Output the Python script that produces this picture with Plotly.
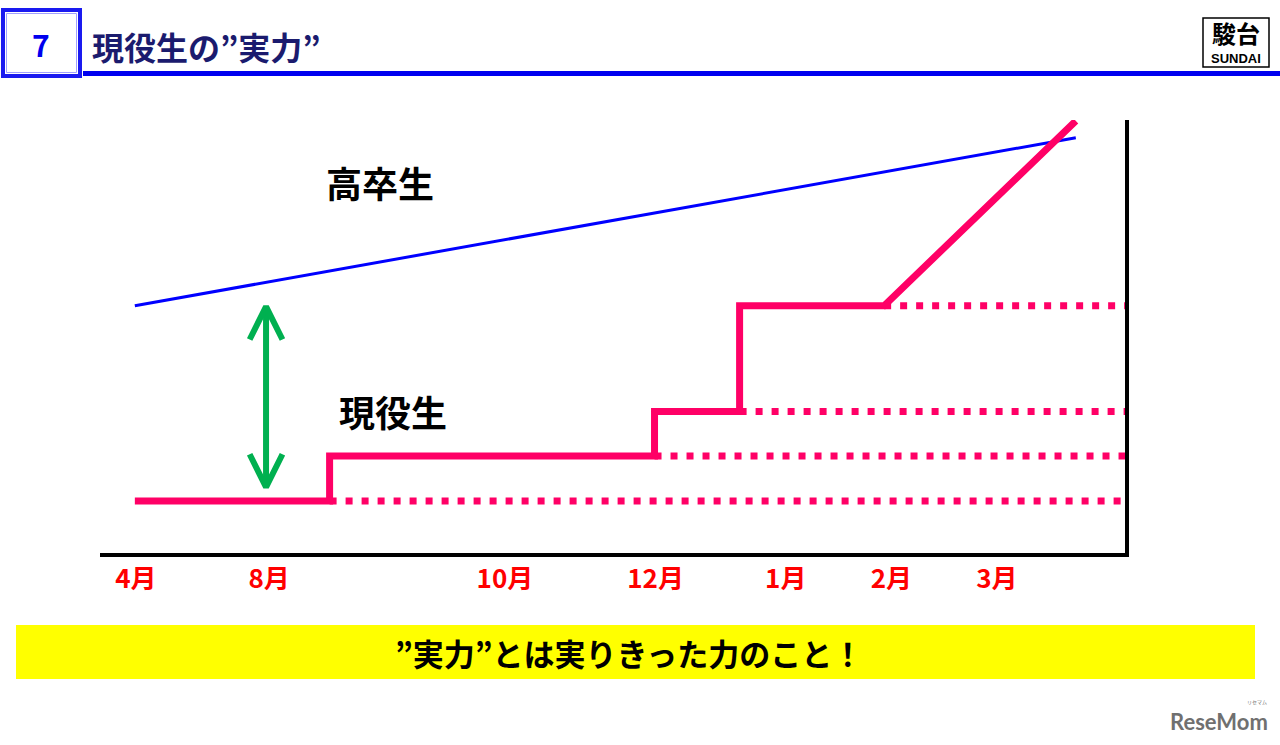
import plotly.graph_objects as go

# ---- data (schematic units: x 0-100 along the time axis, y 0-100 "ability") ----
months = ["4月", "8月", "10月", "12月", "1月", "2月", "3月"]
month_pos = [3.5, 16.5, 39.5, 54.2, 66.9, 77.2, 87.5]

grad_x = [3.4, 95.2]          # 高卒生 (graduates) - steady rise
grad_y = [57.1, 95.9]

curr_x = [3.4, 22.4, 22.4, 54.1, 54.1, 62.4, 62.4, 76.5, 95.2]   # 現役生 (current students)
curr_y = [12.0, 12.0, 22.4, 22.4, 32.7, 32.7, 57.1, 57.1, 99.8]

level_y = [12.0, 22.4, 32.7, 57.1]       # dotted "plateau" levels
level_start = [22.4, 54.1, 62.4, 76.5]
level_end = 100.0

gap_x = 16.2                              # green double arrow
gap_low, gap_high = 15.2, 56.9
head_dx, head_dy = 1.6, 7.6

label_grad = ("高卒生", 27.3, 85.7)
label_curr = ("現役生", 28.6, 32.7)

PINK = "#FF0066"
BLUE = "#0000FF"
GREEN = "#00B050"
JP = "Noto Sans CJK JP"

W, H = 1280, 745


def px(x):
    return x / W


def py(y):
    return 1 - y / H


fig = go.Figure()

for ly, ls in zip(level_y, level_start):
    fig.add_trace(go.Scatter(x=[ls, level_end], y=[ly, ly], mode="lines",
                             line=dict(color=PINK, width=7, dash="7px,9px"),
                             hoverinfo="skip"))

fig.add_trace(go.Scatter(x=grad_x, y=grad_y, mode="lines",
                         line=dict(color=BLUE, width=3), hoverinfo="skip"))
fig.add_trace(go.Scatter(x=curr_x, y=curr_y, mode="lines",
                         line=dict(color=PINK, width=7), hoverinfo="skip"))

# green double arrow
fig.add_trace(go.Scatter(x=[gap_x, gap_x], y=[gap_low, gap_high], mode="lines",
                         line=dict(color=GREEN, width=6), hoverinfo="skip"))
fig.add_trace(go.Scatter(x=[gap_x - head_dx, gap_x, gap_x + head_dx],
                         y=[gap_high - head_dy, gap_high, gap_high - head_dy],
                         mode="lines", line=dict(color=GREEN, width=6), hoverinfo="skip"))
fig.add_trace(go.Scatter(x=[gap_x - head_dx, gap_x, gap_x + head_dx],
                         y=[gap_low + head_dy, gap_low, gap_low + head_dy],
                         mode="lines", line=dict(color=GREEN, width=6), hoverinfo="skip"))

annotations = []
for text, x, y in (label_grad, label_curr):
    annotations.append(dict(x=x, y=y, xref="x", yref="y", text=text, showarrow=False,
                            xanchor="center", yanchor="middle",
                            font=dict(family=JP, size=36, color="#000000", weight="bold")))


def note(x, y, text, size, color, family=JP, weight="bold", xanchor="center"):
    annotations.append(dict(x=px(x), y=py(y), xref="paper", yref="paper", text=text,
                            showarrow=False, xanchor=xanchor, yanchor="middle",
                            font=dict(family=family, size=size, color=color, weight=weight)))


# header
note(41, 44, "7", 30, "#0000EE")
note(90, 46, "現役生の”実力”", 32, "#1B1B6E", xanchor="left")
note(1236, 33, "駿台", 24, "#000000")
note(1236, 58, "SUNDAI", 13, "#000000", family="Liberation Sans")
# banner
note(629, 652, "”実力”とは実りきった力のこと！", 31, "#000000")
# watermark
note(1219, 721, "ReseMom", 22, "#707070", family="Lato")
note(1257, 702, "リセマム", 5, "#707070", weight="normal")

shapes = [
    dict(type="rect", xref="paper", yref="paper", x0=px(3), x1=px(80), y0=py(10), y1=py(76),
         line=dict(color="#1A1AF0", width=4)),
    dict(type="rect", xref="paper", yref="paper", x0=px(6.5), x1=px(76.5), y0=py(13.5), y1=py(72.5),
         line=dict(color="#A0A0FF", width=1)),
    dict(type="rect", xref="paper", yref="paper", x0=px(83), x1=px(1280), y0=py(71), y1=py(76),
         fillcolor="#0000F0", line=dict(width=0)),
    dict(type="rect", xref="paper", yref="paper", x0=px(1203), x1=px(1269), y0=py(18), y1=py(67),
         line=dict(color="#000000", width=1.5)),
    dict(type="rect", xref="paper", yref="paper", x0=px(16), x1=px(1255), y0=py(625), y1=py(679),
         fillcolor="#FFFF00", line=dict(width=0), layer="below"),
]

fig.update_layout(
    width=W, height=H, autosize=False,
    margin=dict(l=0, r=0, t=0, b=0),
    paper_bgcolor="white", plot_bgcolor="white",
    showlegend=False,
    annotations=annotations, shapes=shapes,
    xaxis=dict(domain=[px(100), px(1125)], range=[0, 100], showgrid=False, zeroline=False,
               showline=True, linecolor="#000000", linewidth=4,
               tickmode="array", tickvals=month_pos, ticktext=months, ticks="",
               ticklabelstandoff=0,
               tickfont=dict(family=JP, size=26, color="#FF0000", weight="bold"),
               fixedrange=True),
    yaxis=dict(domain=[py(553), py(120)], range=[0, 100], side="right", showgrid=False,
               zeroline=False, showline=True, linecolor="#000000", linewidth=4,
               showticklabels=False, ticks="", fixedrange=True),
)

fig.write_html("out.html", post_script="document.body.style.margin='0';",
               config={"displayModeBar": False})
